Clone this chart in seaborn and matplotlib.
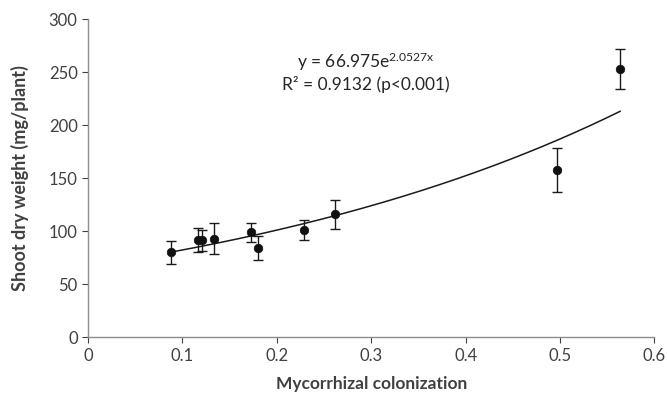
import numpy as np
import pandas as pd
import matplotlib
matplotlib.use("Agg")
import matplotlib.pyplot as plt
import seaborn as sns

# data
colonization = [0.088, 0.116, 0.121, 0.133, 0.173, 0.180, 0.229, 0.262, 0.497, 0.564]
shoot_weight = [80, 91.5, 91.5, 93, 99, 84, 101, 116, 157.5, 253]
weight_err = [11, 11.5, 10, 14.5, 9, 11.5, 9.5, 13.5, 20.5, 19]

# exponential fit as printed on the chart
fit_a = 66.975
fit_b = 2.0527

sns.set_theme(style="ticks")
plt.rcParams["font.family"] = ["Lato", "DejaVu Sans"]
plt.rcParams["mathtext.fontset"] = "custom"
plt.rcParams["mathtext.rm"] = "Lato"
plt.rcParams["mathtext.it"] = "Lato"

df = pd.DataFrame({"x": colonization, "y": shoot_weight, "err": weight_err})

fig = plt.figure(figsize=(6.67, 3.99), dpi=100)
ax = fig.add_axes([0.132, 0.155, 0.849, 0.797])

# trend line
xs = np.linspace(min(colonization), max(colonization), 200)
trend = pd.DataFrame({"x": xs, "y": fit_a * np.exp(fit_b * xs)})
sns.lineplot(data=trend, x="x", y="y", ax=ax, color="#1a1a1a", linewidth=1.1)

ax.errorbar(df["x"], df["y"], yerr=df["err"], fmt="none", ecolor="#1a1a1a",
            elinewidth=1.0, capsize=3.5, capthick=1.0)
sns.scatterplot(data=df, x="x", y="y", ax=ax, color="#111111", s=38,
                edgecolor="#111111", zorder=3)

ax.set_xlim(0, 0.6)
ax.set_ylim(0, 300)
ax.set_xticks(np.arange(0, 0.61, 0.1))
ax.set_xticklabels(["0", "0.1", "0.2", "0.3", "0.4", "0.5", "0.6"])
ax.set_yticks(np.arange(0, 301, 50))
ax.tick_params(labelsize=12, colors="#404040", length=4, width=0.8)
for side in ["left", "bottom"]:
    ax.spines[side].set_color("#8c8c8c")
    ax.spines[side].set_linewidth(1.0)
sns.despine(ax=ax)

ax.set_xlabel("Mycorrhizal colonization", fontsize=12.5, fontweight="bold",
              color="#404040", labelpad=9)
ax.set_ylabel("Shoot dry weight (mg/plant)", fontsize=13, fontweight="bold",
              color="#404040", labelpad=14)

ax.text(0.294, 260, r"y = 66.975e$^{\mathrm{2.0527x}}$", ha="center", va="center",
        fontsize=12.5, color="#262626")
ax.text(0.294, 238, "R² = 0.9132 (p<0.001)", ha="center", va="center",
        fontsize=12.5, color="#262626")

fig.savefig("out.png", dpi=100)
